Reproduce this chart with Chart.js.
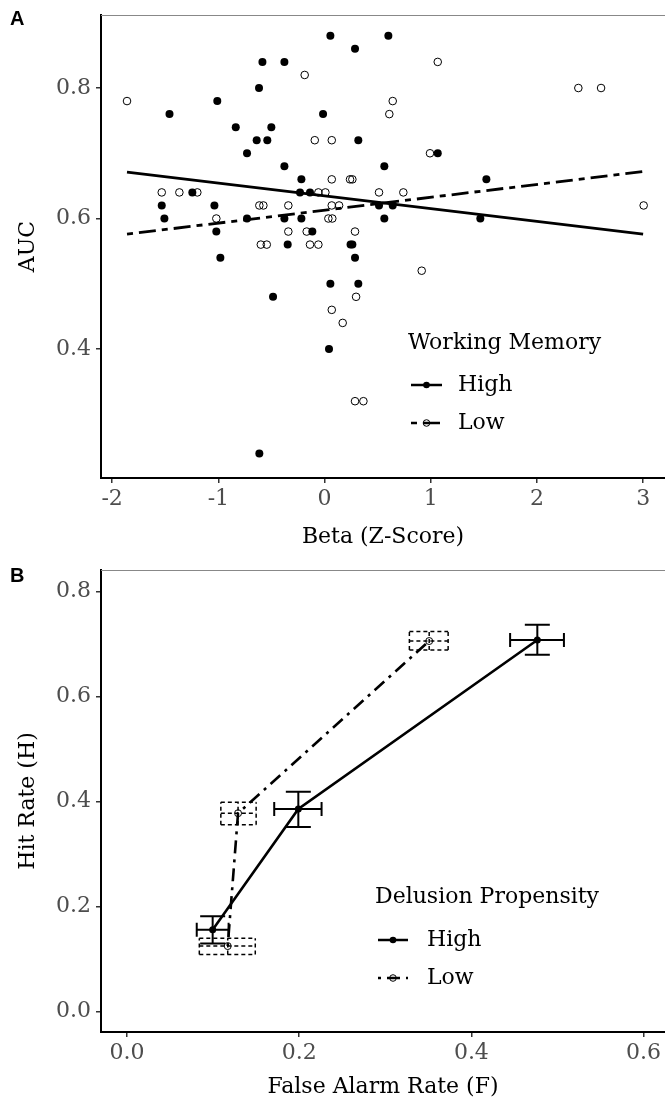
<!DOCTYPE html>
<html>
<head>
<meta charset="utf-8">
<script src="https://cdn.jsdelivr.net/npm/chart.js@4.4.1/dist/chart.umd.min.js"></script>
<style>
html,body{margin:0;padding:0;background:#fff;overflow:hidden;}
#wrapA{position:absolute;left:0;top:0;width:665px;height:555px;}
#wrapB{position:absolute;left:0;top:555px;width:665px;height:551px;}
.tag{position:absolute;left:10px;font:bold 20px "Liberation Sans",Arial,sans-serif;line-height:20px;color:#000;}
</style>
</head>
<body>
<div id="wrapA"><canvas id="chartA"></canvas></div>
<div id="wrapB"><canvas id="chartB"></canvas></div>
<div class="tag" style="top:8px">A</div>
<div class="tag" style="top:565px">B</div>
<script>
// panel A: AUC vs beta, split by working memory
const betaTicks = [-2, -1, 0, 1, 2, 3];
const aucTicks = [0.4, 0.6, 0.8];

const highBeta = [-1.46, -1.01, -0.585, -0.378, -0.617, 0.055, 0.601, 0.287, -0.014, -0.836,
    -0.501, -0.639, -0.539, 0.318, -0.730, 1.066, -0.378, 0.563, -0.218, 1.524,
    -1.245, -0.231, -0.137, -1.533, -1.037, 0.513, 0.642, -1.508, -0.730, -0.378,
    -0.218, 0.563, 1.467, -1.019, -0.115, -0.347, 0.245, 0.262, 0.287, -0.981,
    0.055, 0.318, -0.485, 0.042, -0.614];
const highAuc = [0.76, 0.78, 0.84, 0.84, 0.80, 0.88, 0.88, 0.86, 0.76, 0.74,
    0.74, 0.72, 0.72, 0.72, 0.70, 0.70, 0.68, 0.68, 0.66, 0.66,
    0.64, 0.64, 0.64, 0.62, 0.62, 0.62, 0.62, 0.60, 0.60, 0.60,
    0.60, 0.60, 0.60, 0.58, 0.58, 0.56, 0.56, 0.56, 0.54, 0.54,
    0.50, 0.50, 0.48, 0.40, 0.24];

const lowBeta = [-1.86, -0.187, 1.066, 2.39, 2.604, 0.642, 0.610, -0.092, 0.068, 0.993,
    0.068, 0.24, 0.262, -1.533, -1.367, -1.198, -0.058, 0.008, 0.513, 0.742,
    -0.614, -0.576, -0.341, 0.068, 0.137, 3.005, -1.019, 0.036, 0.073, -0.341,
    -0.168, 0.287, -0.60, -0.544, -0.137, -0.058, 0.915, 0.297, 0.068, 0.171,
    0.287, 0.366];
const lowAuc = [0.78, 0.82, 0.84, 0.80, 0.80, 0.78, 0.76, 0.72, 0.72, 0.70,
    0.66, 0.66, 0.66, 0.64, 0.64, 0.64, 0.64, 0.64, 0.64, 0.64,
    0.62, 0.62, 0.62, 0.62, 0.62, 0.62, 0.60, 0.60, 0.60, 0.58,
    0.58, 0.58, 0.56, 0.56, 0.56, 0.56, 0.52, 0.48, 0.46, 0.44,
    0.32, 0.32];

// fitted lines at their ends
const fitBeta = [-1.86, 3.0];
const highFit = [0.671, 0.576];
const lowFit = [0.576, 0.672];

// panel B: hit rate vs false alarm rate, split by delusion propensity
const farTicks = [0, 0.2, 0.4, 0.6];
const hitTicks = [0, 0.2, 0.4, 0.6, 0.8];

const highF = [0.0995, 0.199, 0.4766];
const highH = [0.156, 0.386, 0.708];
const highFLo = [0.081, 0.171, 0.445];
const highFHi = [0.118, 0.226, 0.5075];
const highHLo = [0.130, 0.352, 0.680];
const highHHi = [0.182, 0.419, 0.737];

const lowF = [0.117, 0.129, 0.351];
const lowH = [0.125, 0.378, 0.706];
const lowFLo = [0.084, 0.109, 0.328];
const lowFHi = [0.149, 0.150, 0.373];
const lowHLo = [0.109, 0.356, 0.689];
const lowHHi = [0.140, 0.399, 0.724];

const serif = "'DejaVu Serif', serif";
const tickGrey = "#4d4d4d";
const twodash = [6, 6, 17, 6];
const dotdash = [3, 6, 13, 6];

const pts = (xs, ys) => xs.map((x, i) => ({ x: x, y: ys[i] }));
const fixTicks = vals => s => { s.ticks = vals.map(v => ({ value: v })); };

function axisX(min, max, ticks, fmt, title, h, padB){
    return {
        type: "linear", min: min, max: max,
        afterBuildTicks: fixTicks(ticks),
        grid: { display: true, drawOnChartArea: false, drawTicks: true, tickLength: 5, color: "#333", lineWidth: 1.5 },
        border: { display: true, color: "#000", width: 2 },
        ticks: { color: tickGrey, font: { family: serif, size: 22 }, padding: 3, maxRotation: 0, callback: fmt },
        title: { display: true, text: title, color: "#000", font: { family: serif, size: 22 }, padding: { top: 4, bottom: padB } },
        afterFit: s => { s.height = h; s.paddingLeft = 0; s.paddingRight = 0; }
    };
}
function axisY(min, max, ticks, title){
    return {
        min: min, max: max,
        afterBuildTicks: fixTicks(ticks),
        grid: { display: true, drawOnChartArea: false, drawTicks: true, tickLength: 5, color: "#333", lineWidth: 1.5 },
        border: { display: true, color: "#000", width: 2 },
        ticks: { color: tickGrey, font: { family: serif, size: 22 }, padding: 5, callback: v => v.toFixed(1) },
        title: { display: true, text: title, color: "#000", font: { family: serif, size: 22 }, padding: { top: 15, bottom: 0 } },
        afterFit: s => { s.width = 101; s.paddingTop = 0; s.paddingBottom = 0; }
    };
}

// thin grey frame line along the top of the panel
const topRule = {
    id: "topRule",
    afterDraw(chart){
        const { ctx, chartArea: a } = chart;
        ctx.save();
        ctx.strokeStyle = "#888"; ctx.lineWidth = 1;
        ctx.beginPath(); ctx.moveTo(a.left, a.top + 0.5); ctx.lineTo(a.right, a.top + 0.5); ctx.stroke();
        ctx.restore();
    }
};

// in-panel legend, ggplot style
const keyBox = {
    id: "keyBox",
    afterDraw(chart, args, o){
        const ctx = chart.ctx;
        ctx.save();
        ctx.fillStyle = "#000"; ctx.strokeStyle = "#000";
        ctx.font = "22px " + serif; ctx.textBaseline = "middle"; ctx.textAlign = "left";
        ctx.fillText(o.title, o.titleX, o.titleY);
        o.rows.forEach((r, i) => {
            const yy = o.rowY[i];
            ctx.beginPath(); ctx.setLineDash(r.dash); ctx.lineWidth = 2.5;
            ctx.moveTo(o.keyX0, yy); ctx.lineTo(o.keyX1, yy); ctx.stroke();
            ctx.setLineDash([]);
            ctx.beginPath(); ctx.arc((o.keyX0 + o.keyX1) / 2, yy, 3.3, 0, Math.PI * 2);
            if(r.filled){ ctx.fill(); } else { ctx.lineWidth = 1; ctx.stroke(); }
            ctx.fillText(r.label, o.textX, yy);
        });
        ctx.restore();
    }
};

// error bars for panel B: High has capped crosses, Low has dashed boxes
const errorBars = {
    id: "errorBars",
    beforeDatasetsDraw(chart){
        const { ctx, scales: { x, y } } = chart;
        ctx.save();
        ctx.strokeStyle = "#000";
        ctx.lineWidth = 2; ctx.setLineDash([]);
        highF.forEach((f, i) => {
            const px = x.getPixelForValue(f), py = y.getPixelForValue(highH[i]);
            const x0 = x.getPixelForValue(highFLo[i]), x1 = x.getPixelForValue(highFHi[i]);
            const y0 = y.getPixelForValue(highHLo[i]), y1 = y.getPixelForValue(highHHi[i]);
            ctx.beginPath();
            ctx.moveTo(x0, py); ctx.lineTo(x1, py);
            ctx.moveTo(x0, py - 7); ctx.lineTo(x0, py + 7);
            ctx.moveTo(x1, py - 7); ctx.lineTo(x1, py + 7);
            ctx.moveTo(px, y0); ctx.lineTo(px, y1);
            ctx.moveTo(px - 12.5, y0); ctx.lineTo(px + 12.5, y0);
            ctx.moveTo(px - 12.5, y1); ctx.lineTo(px + 12.5, y1);
            ctx.stroke();
        });
        ctx.lineWidth = 1.5; ctx.setLineDash([4, 3]);
        lowF.forEach((f, i) => {
            const px = x.getPixelForValue(f), py = y.getPixelForValue(lowH[i]);
            const x0 = x.getPixelForValue(lowFLo[i]), x1 = x.getPixelForValue(lowFHi[i]);
            const y0 = y.getPixelForValue(lowHLo[i]), y1 = y.getPixelForValue(lowHHi[i]);
            ctx.beginPath();
            ctx.moveTo(x0, py); ctx.lineTo(x1, py);
            ctx.moveTo(x0, y0); ctx.lineTo(x0, y1);
            ctx.moveTo(x1, y0); ctx.lineTo(x1, y1);
            ctx.moveTo(px, y0); ctx.lineTo(px, y1);
            ctx.moveTo(x0, y0); ctx.lineTo(x1, y0);
            ctx.moveTo(x0, y1); ctx.lineTo(x1, y1);
            ctx.stroke();
        });
        ctx.restore();
    }
};

Chart.defaults.animation = false;
Chart.defaults.font.family = serif;

new Chart(document.getElementById("chartA"), {
    type: "scatter",
    data: {
        datasets: [
            { label: "High", data: pts(highBeta, highAuc), pointRadius: 4, pointHoverRadius: 4, backgroundColor: "#000", borderColor: "#000", borderWidth: 0 },
            { label: "Low", data: pts(lowBeta, lowAuc), pointRadius: 3.8, pointHoverRadius: 3.8, backgroundColor: "rgba(0,0,0,0)", borderColor: "#000", borderWidth: 1 },
            { label: "High fit", data: pts(fitBeta, highFit), showLine: true, pointRadius: 0, borderColor: "#000", borderWidth: 2.8 },
            { label: "Low fit", data: pts(fitBeta, lowFit), showLine: true, pointRadius: 0, borderColor: "#000", borderWidth: 2.8, borderDash: twodash }
        ]
    },
    options: {
        responsive: true, maintainAspectRatio: false,
        layout: { autoPadding: false, padding: { top: 15, left: 0, right: 0, bottom: 0 } },
        plugins: {
            legend: { display: false }, tooltip: { enabled: false },
            keyBox: {
                title: "Working Memory", titleX: 408, titleY: 343,
                rowY: [385, 423], keyX0: 411, keyX1: 442, textX: 458,
                rows: [{ label: "High", dash: [], filled: true }, { label: "Low", dash: twodash, filled: false }]
            }
        },
        scales: {
            x: axisX(-2.105, 3.206, betaTicks, v => String(v), "Beta (Z-Score)", 77, 5),
            y: axisY(0.2023, 0.9119, aucTicks, "AUC")
        }
    },
    plugins: [topRule, keyBox]
});

new Chart(document.getElementById("chartB"), {
    type: "scatter",
    data: {
        datasets: [
            { label: "High", data: pts(highF, highH), showLine: true, borderColor: "#000", borderWidth: 2.6,
              pointRadius: 3.5, pointHoverRadius: 3.5, pointBackgroundColor: "#000", pointBorderWidth: 0 },
            { label: "Low", data: pts(lowF, lowH), showLine: true, borderColor: "#000", borderWidth: 2.6, borderDash: dotdash,
              pointRadius: 3.5, pointHoverRadius: 3.5, pointBackgroundColor: "rgba(0,0,0,0)", pointBorderWidth: 1 }
        ]
    },
    options: {
        responsive: true, maintainAspectRatio: false,
        layout: { autoPadding: false, padding: { top: 15, left: 0, right: 0, bottom: 0 } },
        plugins: {
            legend: { display: false }, tooltip: { enabled: false },
            keyBox: {
                title: "Delusion Propensity", titleX: 375, titleY: 342,
                rowY: [385, 423], keyX0: 378, keyX1: 408, textX: 427,
                rows: [{ label: "High", dash: [], filled: true }, { label: "Low", dash: dotdash, filled: false }]
            }
        },
        scales: {
            x: axisX(-0.0302, 0.6249, farTicks, v => v.toFixed(1), "False Alarm Rate (F)", 74, 6),
            y: axisY(-0.0387, 0.8413, hitTicks, "Hit Rate (H)")
        }
    },
    plugins: [topRule, errorBars, keyBox]
});
</script>
</body>
</html>
